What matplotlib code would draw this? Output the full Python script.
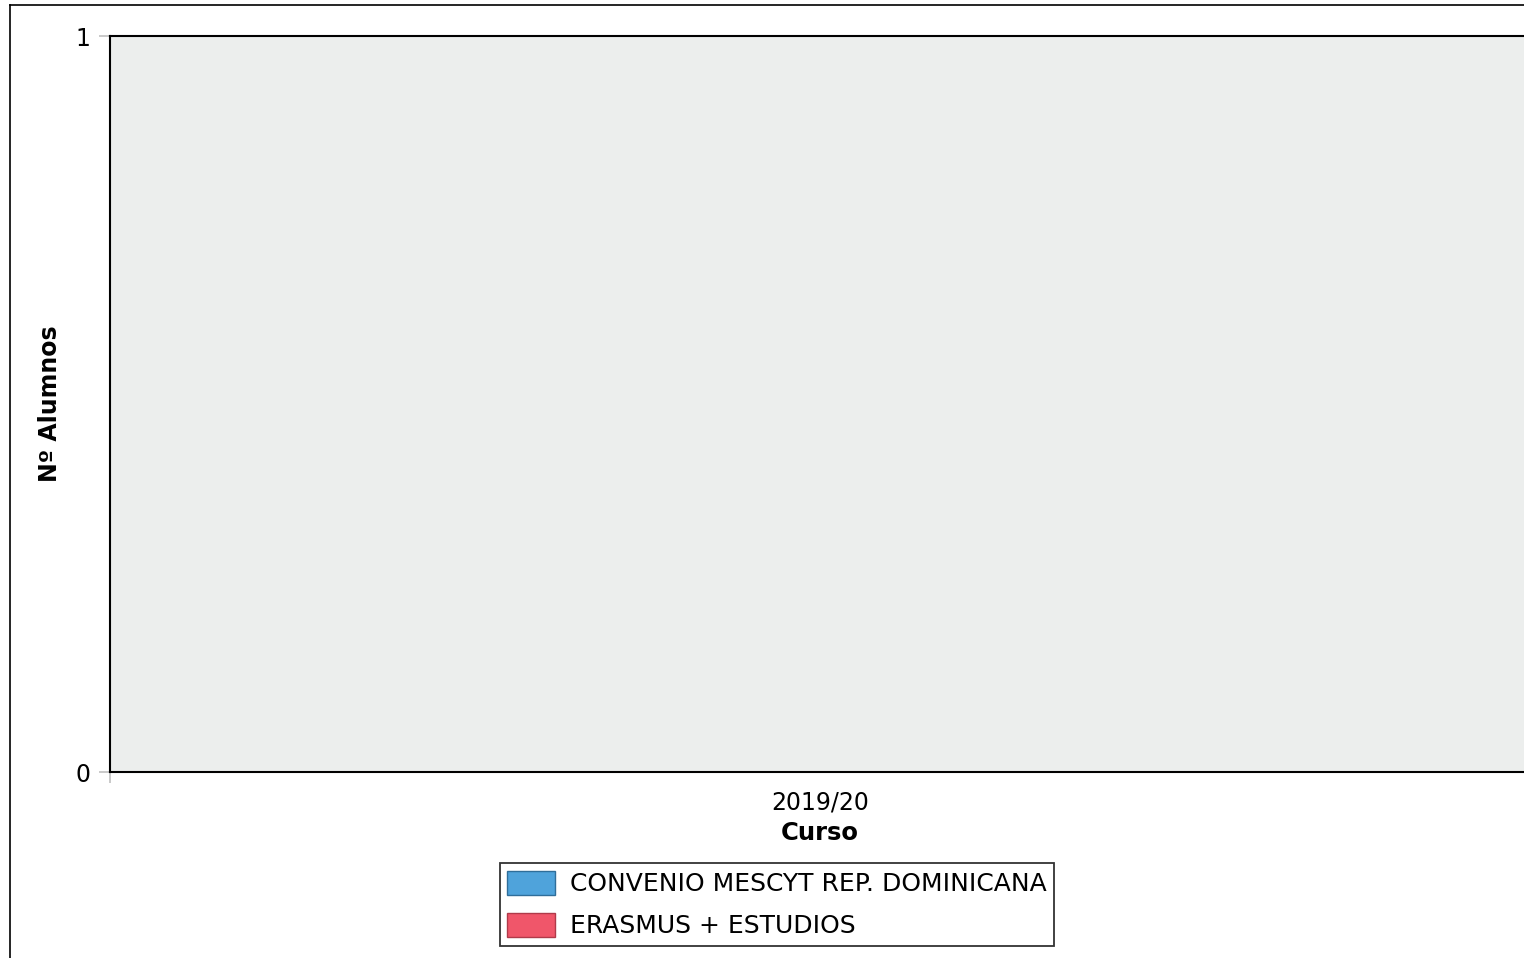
import numpy as np
import matplotlib
matplotlib.use('Agg')
import matplotlib.pyplot as plt
from matplotlib.lines import Line2D
from matplotlib.patches import Patch

# data
cursos = ['2019/20']
convenio = [0]
erasmus = [0]
series_names = ['CONVENIO MESCYT REP. DOMINICANA', 'ERASMUS + ESTUDIOS']
series_colors = ['#4FA3DB', '#F0566A']
edge_colors = ['#2F6E9A', '#B03A4A']
y_ticks = [0, 1]

plt.rcParams['font.family'] = ['DejaVu Sans']

W, H = 1524, 958
fig = plt.figure(figsize=(W / 100, H / 100), dpi=100)

# axes placed in pixel coordinates
left, right, top, bottom = 110, 1530, 36, 772
ax = fig.add_axes([left / W, 1 - bottom / H, (right - left) / W, (bottom - top) / H])
ax.set_facecolor('#ECEEED')

x = np.arange(len(cursos))
w = 0.35
ax.bar(x - w / 2, convenio, w, color=series_colors[0], edgecolor=edge_colors[0])
ax.bar(x + w / 2, erasmus, w, color=series_colors[1], edgecolor=edge_colors[1])

ax.set_xlim(-0.5, len(cursos) - 0.5)
ax.set_ylim(0, 1)
ax.set_yticks(y_ticks)
ax.set_yticklabels([str(v) for v in y_ticks], fontsize=17)
ax.tick_params(axis='y', color='#C0C0C0', length=8, width=1.2, pad=6)

# category label without mark, plus a gray boundary tick at the left edge
ax.set_xticks(x)
ax.set_xticklabels(cursos, fontsize=17)
ax.tick_params(axis='x', length=0, pad=13)
ax.set_xticks([-0.5], minor=True)
ax.tick_params(axis='x', which='minor', color='#C0C0C0', length=8, width=1.2)

for s in ['left', 'top', 'bottom']:
    ax.spines[s].set_color('black')
    ax.spines[s].set_linewidth(1.5)
ax.spines['right'].set_visible(False)

ax.set_ylabel('Nº Alumnos', fontsize=17, fontweight='bold', labelpad=10)
ax.set_xlabel('Curso', fontsize=17.5, fontweight='bold', labelpad=5)

handles = [Patch(facecolor=c, edgecolor=e, linewidth=1) for c, e in zip(series_colors, edge_colors)]
leg = fig.legend(handles, series_names, loc='center', bbox_to_anchor=(777 / W, 1 - 904.5 / H),
                 fontsize=18, frameon=True, fancybox=False, edgecolor='black',
                 handlelength=1.9, handleheight=1.1, handletextpad=0.6, labelspacing=0.65,
                 borderpad=0.3, borderaxespad=0)
leg.get_frame().set_linewidth(1.3)

# outer border of the chart image
fig.add_artist(Line2D([10 / W, 1.0], [1 - 5 / H, 1 - 5 / H], color='black', lw=1.2, transform=fig.transFigure))
fig.add_artist(Line2D([10 / W, 10 / W], [1 - 5 / H, 0], color='black', lw=1.2, transform=fig.transFigure))

fig.savefig('out.png', dpi=100)
